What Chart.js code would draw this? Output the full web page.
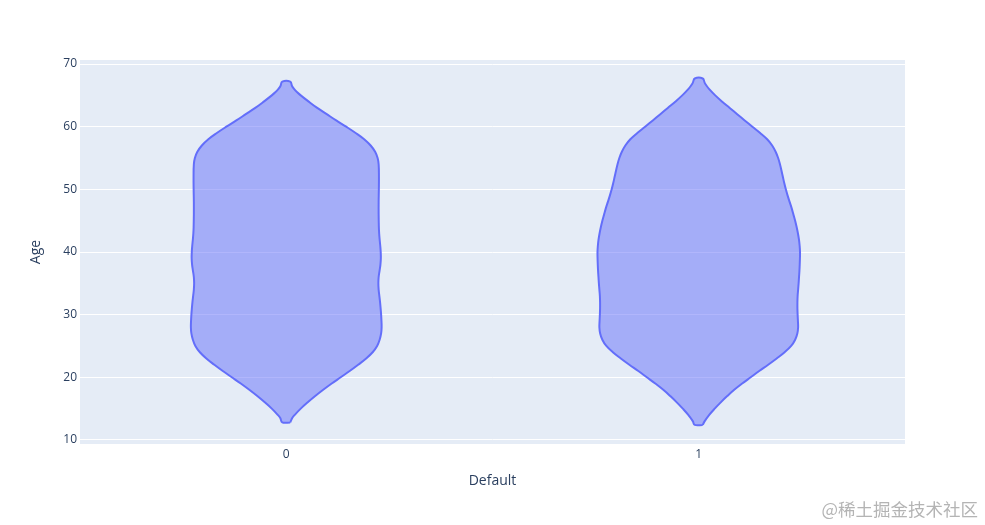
<!DOCTYPE html>
<html>
<head>
<meta charset="utf-8">
<script src="https://cdn.jsdelivr.net/npm/chart.js@4.4.0/dist/chart.umd.min.js"></script>
<style>
    html, body { margin: 0; padding: 0; background: #fff; }
    #wrap { position: relative; width: 985px; height: 525px; }
    #watermark {
        position: absolute; right: 7px; bottom: 4px;
        font-family: "Noto Sans CJK SC", sans-serif; font-size: 17.5px;
        color: #b4b4b4; white-space: nowrap;
    }
</style>
</head>
<body>
<div id="wrap">
    <canvas id="violinChart" width="985" height="525"></canvas>
    <div id="watermark">@稀土掘金技术社区</div>
</div>
<script>
// categories on the x axis (Default = 0 / 1)
const categories = ['0', '1'];
const ageTicks = [10, 20, 30, 40, 50, 60, 70];

// violin outline for Default = 0: age and half width (x axis units)
const ages0 = [12.8, 13.5, 14, 15, 16, 17, 18, 19, 20, 21, 22, 23, 24, 25, 26, 27, 28, 29, 30, 31, 32, 33, 34, 35, 36, 37, 38, 39,
    40, 41, 42, 43, 44, 46, 48, 50, 52, 54, 55, 56, 57, 58, 59, 60, 61, 62, 63, 64, 65, 65.5, 66, 66.5, 67.2];
const halfWidth0 = [0.0097, 0.0145, 0.0206, 0.0351, 0.0521, 0.0702, 0.0896, 0.1102, 0.1320, 0.1538, 0.1743, 0.1937, 0.2094, 0.2203,
    0.2264, 0.2300, 0.2312, 0.2308, 0.2300, 0.2288, 0.2274, 0.2257, 0.2240, 0.2233, 0.2240, 0.2262, 0.2283, 0.2293,
    0.2290, 0.2279, 0.2264, 0.2252, 0.2245, 0.2240, 0.2240, 0.2245, 0.2247, 0.2240, 0.2215, 0.2155, 0.2046, 0.1889,
    0.1683, 0.1453, 0.1211, 0.0981, 0.0751, 0.0545, 0.0351, 0.0266, 0.0194, 0.0140, 0.0097];

// violin outline for Default = 1
const ages1 = [12.4, 13, 14, 15, 16, 17, 18, 19, 20, 21, 22, 23, 24, 25, 26, 27, 28, 29, 30, 31, 32, 33, 34, 35, 36, 37, 38, 39,
    40, 41, 42, 43, 44, 45, 46, 47, 48, 49, 50, 51, 52, 53, 54, 55, 56, 57, 58, 59, 60, 61, 62, 63, 64, 65, 66, 66.5, 67, 67.7];
const halfWidth1 = [0.0097, 0.0145, 0.0254, 0.0387, 0.0533, 0.0690, 0.0860, 0.1053, 0.1259, 0.1465, 0.1683, 0.1889, 0.2082, 0.2240,
    0.2337, 0.2390, 0.2409, 0.2404, 0.2397, 0.2392, 0.2392, 0.2397, 0.2409, 0.2421, 0.2431, 0.2441, 0.2448, 0.2453,
    0.2455, 0.2446, 0.2429, 0.2404, 0.2373, 0.2337, 0.2295, 0.2252, 0.2203, 0.2155, 0.2111, 0.2073, 0.2039, 0.2005,
    0.1969, 0.1925, 0.1864, 0.1780, 0.1659, 0.1489, 0.1300, 0.1114, 0.0932, 0.0751, 0.0569, 0.0400, 0.0254, 0.0194,
    0.0145, 0.0097];

const LINE_COLOR = '#636efa';
const FILL_COLOR = 'rgba(99, 110, 250, 0.5)';
const TEXT_COLOR = '#2a3f5f';

/**
 * closed outline: up the right side, down the left side
 */
function violinPath(center, ages, halfWidths) {
    const path = [];
    for (let i = 0; i < ages.length; i++) {
        path.push({x: center + halfWidths[i], y: ages[i]});
    }
    for (let i = ages.length - 1; i >= 0; i--) {
        path.push({x: center - halfWidths[i], y: ages[i]});
    }
    path.push({x: center + halfWidths[0], y: ages[0]});
    return path;
}

function violinDataset(center, ages, halfWidths) {
    return {
        data: violinPath(center, ages, halfWidths),
        borderColor: LINE_COLOR,
        backgroundColor: FILL_COLOR,
        borderWidth: 2,
        fill: 'shape',
        tension: 0.4,
        pointRadius: 0
    };
}

const plotBackground = {
    id: 'plotBackground',
    beforeDraw(chart) {
        const {ctx, chartArea} = chart;
        ctx.save();
        ctx.fillStyle = '#e5ecf6';
        ctx.fillRect(chartArea.left, chartArea.top, chartArea.right - chartArea.left, chartArea.bottom - chartArea.top);
        ctx.restore();
    }
};

const tickFont = {family: '"Open Sans", sans-serif', size: 12};
const titleFont = {family: '"Open Sans", sans-serif', size: 14};

new Chart(document.getElementById('violinChart'), {
    type: 'line',
    data: {
        datasets: [
            violinDataset(0, ages0, halfWidth0),
            violinDataset(1, ages1, halfWidth1)
        ]
    },
    options: {
        responsive: false,
        animation: false,
        layout: {padding: {top: 60, right: 80, left: 0, bottom: 0}},
        plugins: {
            legend: {display: false},
            tooltip: {enabled: false}
        },
        scales: {
            x: {
                type: 'linear',
                min: -0.5,
                max: 1.5,
                afterFit(scale) { scale.height = 81; },
                afterBuildTicks(scale) {
                    scale.ticks = categories.map((c, i) => ({value: i}));
                },
                ticks: {
                    color: TEXT_COLOR,
                    font: tickFont,
                    padding: 3,
                    callback: (value) => categories[value]
                },
                grid: {display: false, drawTicks: false},
                border: {display: false},
                title: {
                    display: true,
                    text: 'Default',
                    color: TEXT_COLOR,
                    font: titleFont,
                    padding: {bottom: 35.6}
                }
            },
            y: {
                type: 'linear',
                min: 9.35,
                max: 70.65,
                afterFit(scale) { scale.width = 80; },
                afterBuildTicks(scale) {
                    scale.ticks = ageTicks.map(v => ({value: v}));
                },
                ticks: {
                    color: TEXT_COLOR,
                    font: tickFont,
                    padding: 3
                },
                grid: {color: '#ffffff', lineWidth: 1, drawTicks: false},
                border: {display: false},
                title: {
                    display: true,
                    text: 'Age',
                    color: TEXT_COLOR,
                    font: titleFont,
                    padding: {top: 27.6}
                }
            }
        }
    },
    plugins: [plotBackground]
});
</script>
</body>
</html>
